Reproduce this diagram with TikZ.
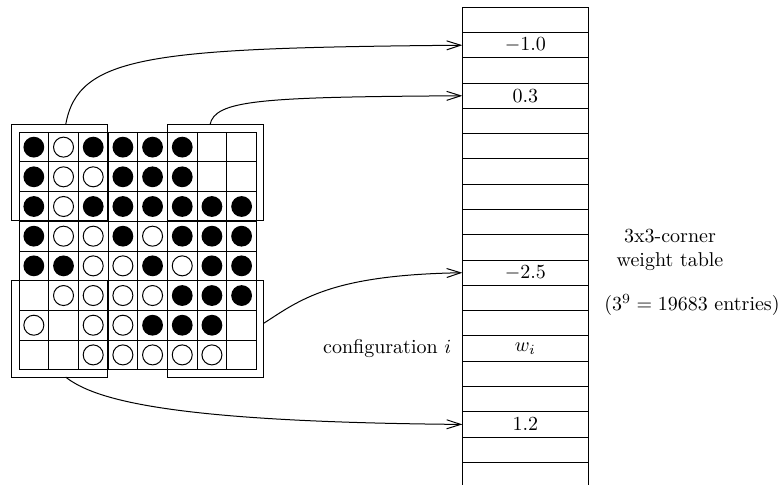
\documentclass[tikz,border=0pt]{standalone}
\usetikzlibrary{arrows.meta}
\tikzset{
  thin line/.style={line width=0.5pt},
  cornerbox/.style={draw, thin line, rectangle, inner sep=0pt, outer sep=0pt,
    minimum width=48pt, minimum height=48.15pt},
  tcell/.style={draw, thin line, rectangle, inner sep=0pt, outer sep=0pt,
    minimum width=63pt, minimum height=12.64pt},
  conn/.style={thin line, -{Straight Barb[length=7pt,width=4.5pt,line width=0.5pt]}},
  bdisc/.style={fill=black},
  wdisc/.style={draw=black, fill=white, thin line},
}
\begin{document}
\begin{tikzpicture}[x=0.5pt,y=-0.5pt]
\useasboundingbox (0,0) rectangle (780,485);
% board grid
\foreach \i in {0,...,8} {
  \draw[thin line] ({19+\i*29.68},132.3) -- ({19+\i*29.68},369.74);
  \draw[thin line] (19,{132.3+\i*29.68}) -- (256.44,{132.3+\i*29.68});
}
% black discs
\foreach \c/\r in {0/0,2/0,3/0,4/0,5/0,
                   0/1,3/1,4/1,5/1,
                   0/2,2/2,3/2,4/2,5/2,6/2,7/2,
                   0/3,3/3,5/3,6/3,7/3,
                   0/4,1/4,4/4,6/4,7/4,
                   5/5,6/5,7/5,
                   4/6,5/6,6/6} {
  \fill[bdisc] ({19+(\c+0.5)*29.68},{132.3+(\r+0.5)*29.68}) circle[radius=5.2pt];
}
% white discs
\foreach \c/\r in {1/0,
                   1/1,2/1,
                   1/2,
                   1/3,2/3,4/3,
                   2/4,3/4,5/4,
                   1/5,2/5,3/5,4/5,
                   0/6,2/6,3/6,
                   2/7,3/7,4/7,5/7,6/7} {
  \draw[wdisc] ({19+(\c+0.5)*29.68},{132.3+(\r+0.5)*29.68}) circle[radius=5pt];
}
% corner boxes
\node[cornerbox] (tl) at (59.7,172.85) {};
\node[cornerbox] (tr) at (215.7,172.85) {};
\node[cornerbox] (bl) at (59.7,329.0) {};
\node[cornerbox] (br) at (215.7,329.0) {};
% table
\foreach \k/\t in {0/{},1/{$-1.0$},2/{},3/{$0.3$},4/{},5/{},6/{},7/{},8/{},9/{},
                   10/{$-2.5$},11/{},12/{},13/{$w_i$},14/{},15/{},16/{$1.2$},17/{}} {
  \node[tcell] (r\k) at (525.3,{7.3+(\k+0.5)*25.28}) {\t};
}
\coordinate (tabbl) at (462.3,485);
\coordinate (tabbr) at (588.3,485);
\draw[thin line] (r17.south west) -- (tabbl);
\draw[thin line] (r17.south east) -- (tabbr);
% connectors
\draw[conn] ([xshift=3pt]tl.north) .. controls (78,55) and (150,48) .. (r1.west);
\draw[conn] ([xshift=-2.85pt]tr.north) .. controls (215,100) and (260,97) .. (r3.west);
\draw[conn] ([yshift=2.85pt]br.east) .. controls (300,300) and (330,275) .. (r10.west);
\draw[conn] ([xshift=3pt]bl.south) .. controls (95,400) and (170,422) .. (r16.west);
% labels
\node[anchor=east] (conf) at ([xshift=-2pt]r13.west) {configuration $i$};
\node[align=center] (title) at (670,250) {3x3-corner\\weight table};
\node (entries) at (692,305) {($3^9 = 19683$ entries)};
\end{tikzpicture}
\end{document}
